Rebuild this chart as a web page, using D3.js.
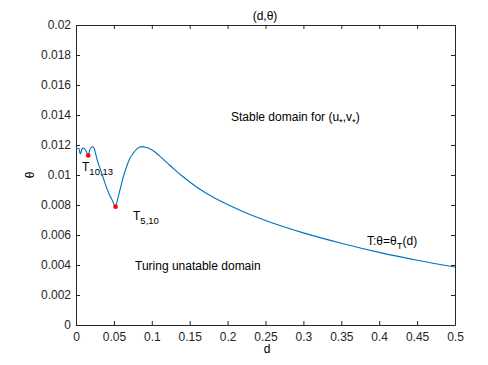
<!DOCTYPE html>
<html><head><meta charset="utf-8">
<script src="https://cdn.jsdelivr.net/npm/d3@7"></script>
<style>body{margin:0;background:#fff;} text{font-family:"Liberation Sans",Arial,sans-serif;}</style>
</head><body>
<svg id="c" width="488" height="365"></svg>
<script>
const dValues = [0,0.002,0.004,0.005,0.006,0.007,0.008,0.010,0.012,0.014,0.0162,0.018,0.020,0.022,0.024,0.026,0.028,0.032,0.036,0.040,0.044,0.048,0.0522,0.055,0.058,0.062,0.0667,0.071,0.0754,0.080,0.086,0.092,0.100,0.110,0.120,0.130,0.140,0.150,0.160,0.180,0.200,0.220,0.250,0.273,0.300,0.350,0.400,0.450,0.500];
const thetaValues = [0.01178,0.01178,0.01175,0.01150,0.01142,0.01160,0.01175,0.01180,0.01170,0.01152,0.01130,0.01165,0.01182,0.01188,0.01178,0.01140,0.01100,0.01040,0.00980,0.00920,0.00870,0.00830,0.00789,0.00840,0.00900,0.00980,0.01055,0.01110,0.01144,0.01172,0.01189,0.01185,0.01168,0.01128,0.01082,0.01036,0.00993,0.00953,0.00917,0.00855,0.00803,0.00757,0.00697,0.00657,0.00614,0.00545,0.00484,0.00432,0.00387];
const specialD = [0.0162,0.0522];
const specialTheta = [0.01130,0.00789];
const xTicks = [0,0.05,0.1,0.15,0.2,0.25,0.3,0.35,0.4,0.45,0.5];
const yTicks = [0,0.002,0.004,0.006,0.008,0.01,0.012,0.014,0.016,0.018,0.02];

const svg = d3.select("#c");
const L=76,R=455,T=25,B=325;
const x = d3.scaleLinear().domain([0,0.5]).range([L,R]);
const y = d3.scaleLinear().domain([0,0.02]).range([B,T]);
const axCol="#262626";
const fs=12;

function styleAxis(g){g.select(".domain").attr("stroke",axCol);g.selectAll(".tick line").attr("stroke",axCol);g.selectAll("text").attr("fill",axCol).attr("font-size",fs).attr("font-family","Liberation Sans, Arial, sans-serif");}

svg.append("g").attr("transform",`translate(0,${B})`)
  .call(d3.axisBottom(x).tickValues(xTicks).tickSizeInner(-4).tickSizeOuter(0).tickPadding(7).tickFormat(d3.format("")))
  .call(styleAxis);
svg.append("g").attr("transform",`translate(0,${T})`)
  .call(d3.axisTop(x).tickValues(xTicks).tickSizeInner(-4).tickSizeOuter(0).tickFormat(""))
  .call(styleAxis);
svg.append("g").attr("transform",`translate(${L},0)`)
  .call(d3.axisLeft(y).tickValues(yTicks).tickSizeInner(-4).tickSizeOuter(0).tickPadding(5).tickFormat(d3.format("")))
  .call(styleAxis);
svg.append("g").attr("transform",`translate(${R},0)`)
  .call(d3.axisRight(y).tickValues(yTicks).tickSizeInner(-4).tickSizeOuter(0).tickFormat(""))
  .call(styleAxis);

const line = d3.line().x((d,i)=>x(dValues[i])).y((d,i)=>y(thetaValues[i])).curve(d3.curveMonotoneX);
svg.append("path").datum(dValues).attr("d",line).attr("fill","none").attr("stroke","#0072BD").attr("stroke-width",1.1);

svg.selectAll("circle.sp").data(specialD).enter().append("circle")
  .attr("cx",(d)=>x(d)).attr("cy",(d,i)=>y(specialTheta[i])).attr("r",2.3).attr("fill","#ff0000");

function txt(xp,yp,parts,anchor){
  const t=svg.append("text").attr("x",xp).attr("y",yp).attr("font-size",fs).attr("fill","#000").attr("text-anchor",anchor||"start");
  let shifted=0;
  parts.forEach(p=>{
    const ts=t.append("tspan").text(p.s);
    if(p.sub){ts.attr("font-size",9.5).attr("dy",4-shifted);shifted=4;}
    else {ts.attr("dy",-shifted);shifted=0;}
  });
  return t;
}
txt(265,20,[{s:"(d,θ)"}],"middle");
txt(267,353,[{s:"d"}],"middle");
svg.append("text").attr("transform","translate(34,175) rotate(-90)").attr("text-anchor","middle").attr("font-size",fs).text("θ");
txt(231,121,[{s:"Stable domain for (u"},{s:"*",sub:true},{s:",v"},{s:"*",sub:true},{s:")"}]);
txt(82,171,[{s:"T"},{s:"10,13",sub:true}]);
txt(133,220,[{s:"T"},{s:"5,10",sub:true}]);
txt(367,245,[{s:"T:θ=θ"},{s:"T",sub:true},{s:"(d)"}]);
txt(135,270,[{s:"Turing unatable domain"}]);
</script>
</body></html>
